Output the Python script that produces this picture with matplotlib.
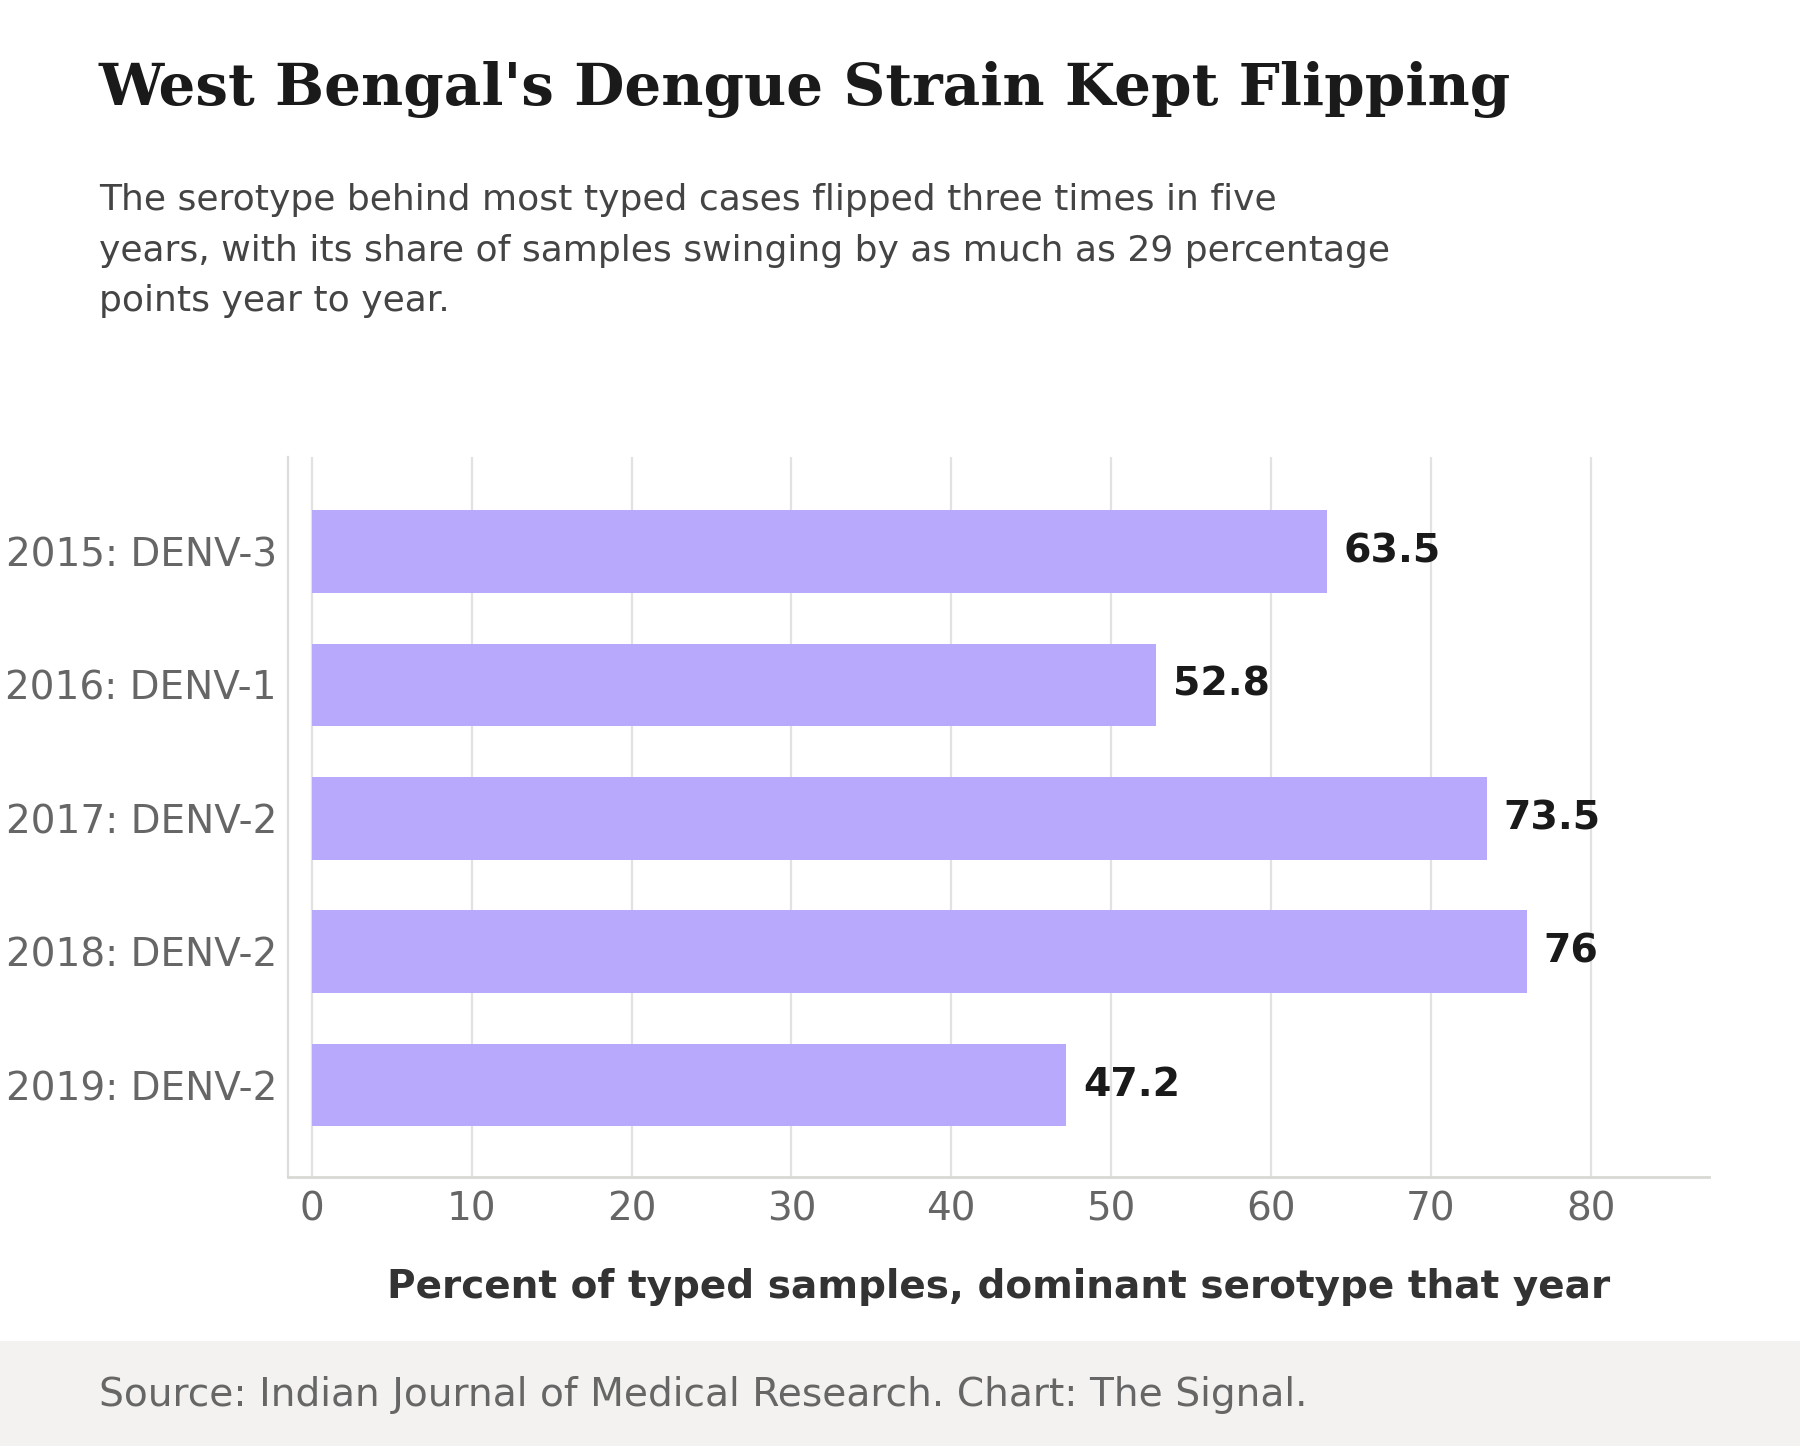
import matplotlib
matplotlib.use("Agg")
import matplotlib.pyplot as plt
from matplotlib.patches import Rectangle


labels = ["2015: DENV-3", "2016: DENV-1", "2017: DENV-2", "2018: DENV-2", "2019: DENV-2"]
shares = [63.5, 52.8, 73.5, 76, 47.2]
value_text = ["63.5", "52.8", "73.5", "76", "47.2"]
xticks = [0, 10, 20, 30, 40, 50, 60, 70, 80]

title = "West Bengal's Dengue Strain Kept Flipping"
subtitle = [
    "The serotype behind most typed cases flipped three times in five",
    "years, with its share of samples swinging by as much as 29 percentage",
    "points year to year.",
]
source = "Source: Indian Journal of Medical Research. Chart: The Signal."

plt.rcParams['font.family'] = ['DejaVu Sans']

fig = plt.figure(figsize=(9, 7.23), dpi=200)
fig.patch.set_facecolor('white')

# footer band
fig.patches.append(Rectangle((0, 0), 1, 0.0726, transform=fig.transFigure,
                             facecolor='#f3f2f0', edgecolor='none', zorder=0))

ax = fig.add_axes([0.16, 0.186, 0.7894, 0.498])

ypos = list(range(len(labels)))
ax.barh(ypos, shares, height=0.62, color='#b8a9fd', zorder=2)
for y, v, t in zip(ypos, shares, value_text):
    ax.annotate(t, (v, y), xytext=(6, 0), textcoords='offset points',
                va='center', ha='left', fontsize=14.2, fontweight='bold',
                color='#1a1a1a')

ax.set_yticks(ypos)
ax.set_yticklabels(labels)
ax.set_ylim(4.69, -0.71)
ax.set_xlim(-1.5, 87.4)
ax.set_xticks(xticks)

ax.tick_params(axis='y', length=0, pad=4, labelsize=14, labelcolor='#666666')
ax.tick_params(axis='x', length=0, pad=5, labelsize=14, labelcolor='#666666')
ax.grid(axis='x', color='#e2e2e2', linewidth=0.8, zorder=0)
ax.set_axisbelow(True)

for s in ['top', 'right']:
    ax.spines[s].set_visible(False)
ax.spines['left'].set_color('#dcdcdc')
ax.spines['left'].set_linewidth(0.8)
ax.spines['bottom'].set_color('#d8d8d4')
ax.spines['bottom'].set_linewidth(1.0)

ax.set_xlabel("Percent of typed samples, dominant serotype that year",
              fontsize=14.05, fontweight='bold', color='#333333', labelpad=14)

fig.text(0.055, 0.9275, title, fontsize=20.9, fontweight='bold',
         family='DejaVu Serif', color='#1a1a1a', va='baseline', ha='left')
for i, line in enumerate(subtitle):
    fig.text(0.055, 1 - (210 + 50.5 * i) / 1446, line, fontsize=13,
             color='#444444', va='baseline', ha='left')

fig.text(0.055, 0.0277, source, fontsize=14.1, color='#666666',
         va='baseline', ha='left')

fig.savefig("out.png", dpi=200)
